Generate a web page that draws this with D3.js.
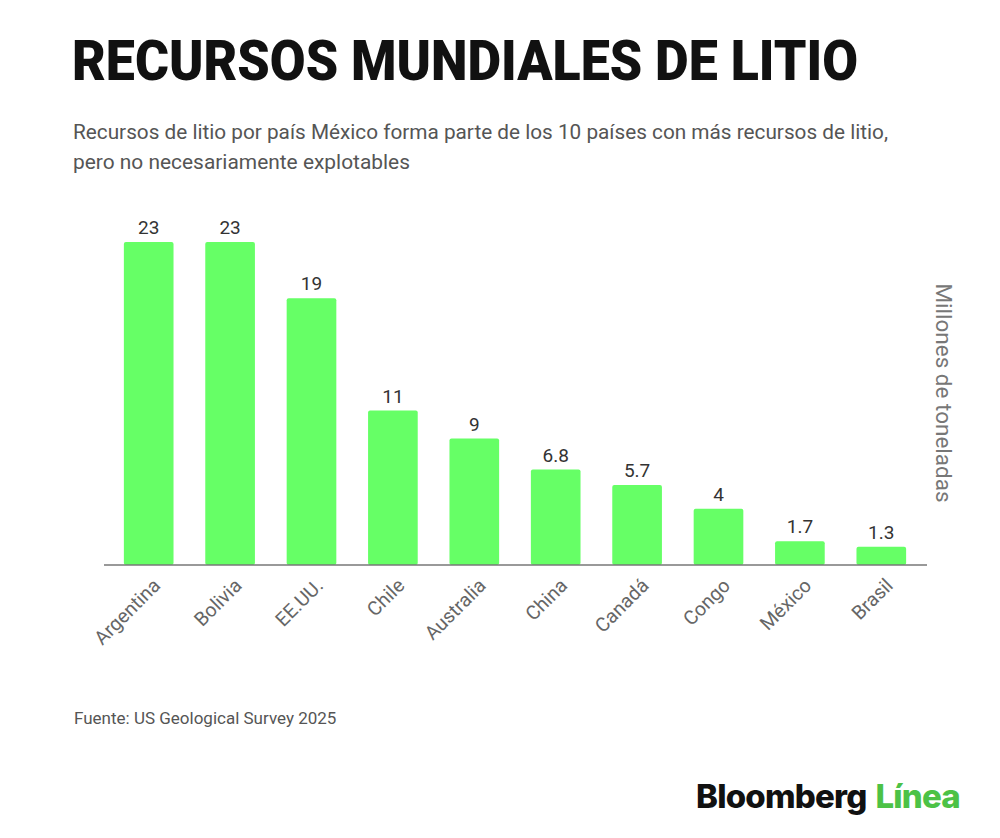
<!DOCTYPE html>
<html lang="es">
<head>
  <meta charset="utf-8">
  <title>Recursos mundiales de litio</title>
  <script src="https://cdn.jsdelivr.net/npm/d3@7/dist/d3.min.js"></script>
  <style>
    html, body { margin: 0; padding: 0; background: #fff; }
    svg { display: block; font-family: Roboto, "Noto Sans", sans-serif; }
  </style>
</head>
<body>
  <svg id="chart" width="1000" height="838"></svg>

  <script>
    // ── data ──
    const countries = ['Argentina', 'Bolivia', 'EE.UU.', 'Chile', 'Australia',
                       'China', 'Canadá', 'Congo', 'México', 'Brasil'];
    const resources = [23, 23, 19, 11, 9, 6.8, 5.7, 4, 1.7, 1.3];
    const valueLabels = ['23', '23', '19', '11', '9', '6.8', '5.7', '4', '1.7', '1.3'];

    const svg = d3.select('#chart');

    // ── header ──
    svg.append('text')
      .attr('x', 72).attr('y', 80)
      .attr('font-size', 56).attr('font-weight', 900)
      .attr('fill', '#111')
      .attr('textLength', 786).attr('lengthAdjust', 'spacingAndGlyphs')
      .text('RECURSOS MUNDIALES DE LITIO');

    const sub = svg.append('text')
      .attr('font-size', 20.5).attr('fill', '#555');
    sub.append('tspan').attr('x', 73).attr('y', 139)
      .attr('textLength', 815).attr('lengthAdjust', 'spacingAndGlyphs')
      .text('Recursos de litio por país México forma parte de los 10 países con más recursos de litio,');
    sub.append('tspan').attr('x', 73).attr('y', 169)
      .attr('textLength', 337).attr('lengthAdjust', 'spacingAndGlyphs')
      .text('pero no necesariamente explotables');

    // ── scales ──
    const x = d3.scaleBand()
      .domain(countries)
      .range([108, 922])
      .paddingInner(0.39)
      .paddingOuter(0.195);

    const y = d3.scaleLinear()
      .domain([0, 23])
      .range([565, 242]);

    // ── bars ──
    svg.append('g')
      .selectAll('rect')
      .data(countries)
      .join('rect')
        .attr('x', d => x(d))
        .attr('y', (d, i) => y(resources[i]))
        .attr('width', x.bandwidth())
        .attr('height', (d, i) => y(0) - y(resources[i]))
        .attr('rx', 2)
        .attr('fill', '#66ff66');

    // value labels
    svg.append('g')
      .selectAll('text')
      .data(countries)
      .join('text')
        .attr('x', d => x(d) + x.bandwidth() / 2)
        .attr('y', (d, i) => y(resources[i]) - 8)
        .attr('text-anchor', 'middle')
        .attr('font-size', 19).attr('fill', '#333')
        .text((d, i) => valueLabels[i]);

    // baseline
    svg.append('line')
      .attr('x1', 104).attr('x2', 927)
      .attr('y1', y(0)).attr('y2', y(0))
      .attr('stroke', '#777').attr('stroke-width', 1.5);

    // x axis labels, rotated
    const xAxis = svg.append('g')
      .attr('transform', `translate(0,${y(0)})`)
      .call(d3.axisBottom(x).tickSize(0).tickPadding(0));
    xAxis.select('.domain').remove();
    xAxis.selectAll('text')
      .attr('font-family', 'Roboto, "Noto Sans", sans-serif')
      .attr('font-size', 19.5).attr('fill', '#666')
      .attr('text-anchor', 'end')
      .attr('transform', 'translate(3,12) rotate(-45)')
      .attr('y', 0).attr('dy', '0.71em');

    // y axis title
    svg.append('text')
      .attr('transform', 'translate(936,393) rotate(90)')
      .attr('text-anchor', 'middle')
      .attr('font-size', 22.5).attr('fill', '#777')
      .text('Millones de toneladas');

    // ── footer ──
    svg.append('text')
      .attr('x', 74).attr('y', 724)
      .attr('font-size', 17).attr('fill', '#555')
      .text('Fuente: US Geological Survey 2025');

    const logo = svg.append('text')
      .attr('x', 696).attr('y', 808)
      .attr('font-family', 'Inter, Roboto, sans-serif')
      .attr('font-size', 33).attr('font-weight', 800)
      .attr('letter-spacing', -0.8);
    logo.append('tspan').attr('fill', '#111').text('Bloomberg');
    logo.append('tspan').attr('fill', '#4cc246').attr('dx', 9).text('Línea');
  </script>
</body>
</html>
